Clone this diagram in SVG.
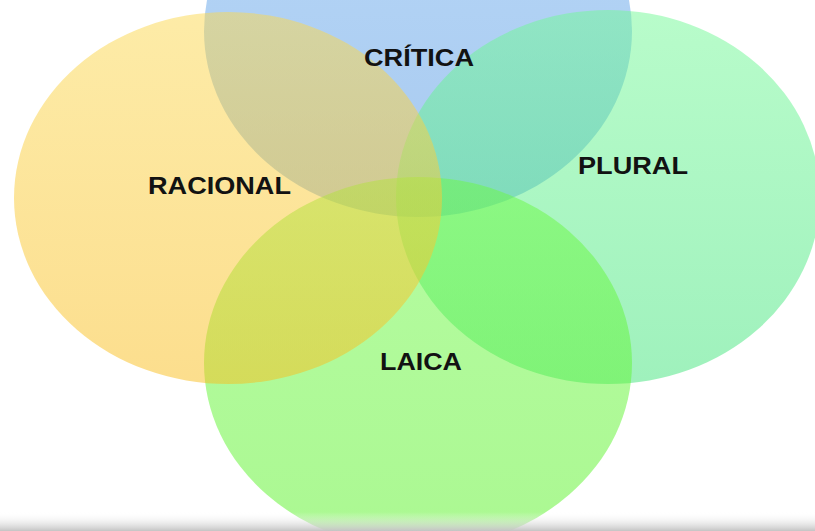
<svg xmlns="http://www.w3.org/2000/svg" width="815" height="531" viewBox="0 0 815 531">
  <defs>
    <linearGradient id="gBlue" x1="0" y1="0" x2="0" y2="1">
      <stop offset="0" stop-color="#6fb0f0"/>
      <stop offset="1" stop-color="#5194e0"/>
    </linearGradient>
    <linearGradient id="gYellow" x1="0" y1="0" x2="0" y2="1">
      <stop offset="0" stop-color="#fbd850"/>
      <stop offset="1" stop-color="#f9bd1c"/>
    </linearGradient>
    <linearGradient id="gRight" x1="0" y1="0" x2="0" y2="1">
      <stop offset="0" stop-color="#72f996"/>
      <stop offset="1" stop-color="#3fe37a"/>
    </linearGradient>
    <linearGradient id="gBottom" x1="0" y1="0" x2="0" y2="1">
      <stop offset="0" stop-color="#6cf945"/>
      <stop offset="1" stop-color="#57f124"/>
    </linearGradient>
    <linearGradient id="gShadow" x1="0" y1="0" x2="0" y2="1">
      <stop offset="0" stop-color="#ffffff" stop-opacity="0"/>
      <stop offset="1" stop-color="#c4c4c4"/>
    </linearGradient>
  </defs>
  <style>
    .set { fill-opacity: 0.5; }
    .lbl { font-family: "Liberation Sans", Arial, Helvetica, sans-serif; font-weight: bold; font-size: 23px; fill: #121212; }
  </style>
  <rect width="815" height="531" fill="#ffffff"/>
  <g id="critica">
    <ellipse class="set" cx="418" cy="31" rx="214" ry="186" fill="url(#gBlue)"/>
  </g>
  <g id="plural">
    <ellipse class="set" cx="608" cy="197" rx="212" ry="187" fill="url(#gRight)"/>
  </g>
  <g id="laica">
    <ellipse class="set" cx="418" cy="363" rx="214" ry="186" fill="url(#gBottom)"/>
  </g>
  <g id="racional">
    <ellipse class="set" cx="228" cy="198" rx="214" ry="186" fill="url(#gYellow)"/>
  </g>
  <g id="labels">
    <text id="critica-label" class="lbl" x="364" y="66" textLength="110" lengthAdjust="spacingAndGlyphs">CRÍTICA</text>
    <text id="plural-label" class="lbl" x="578" y="174" textLength="110" lengthAdjust="spacingAndGlyphs">PLURAL</text>
    <text id="laica-label" class="lbl" x="380" y="370" textLength="82" lengthAdjust="spacingAndGlyphs">LAICA</text>
    <text id="racional-label" class="lbl" x="148" y="194" textLength="143" lengthAdjust="spacingAndGlyphs">RACIONAL</text>
  </g>
  <g id="connectors"></g>
  <rect x="0" y="512" width="815" height="19" fill="url(#gShadow)"/>
</svg>
